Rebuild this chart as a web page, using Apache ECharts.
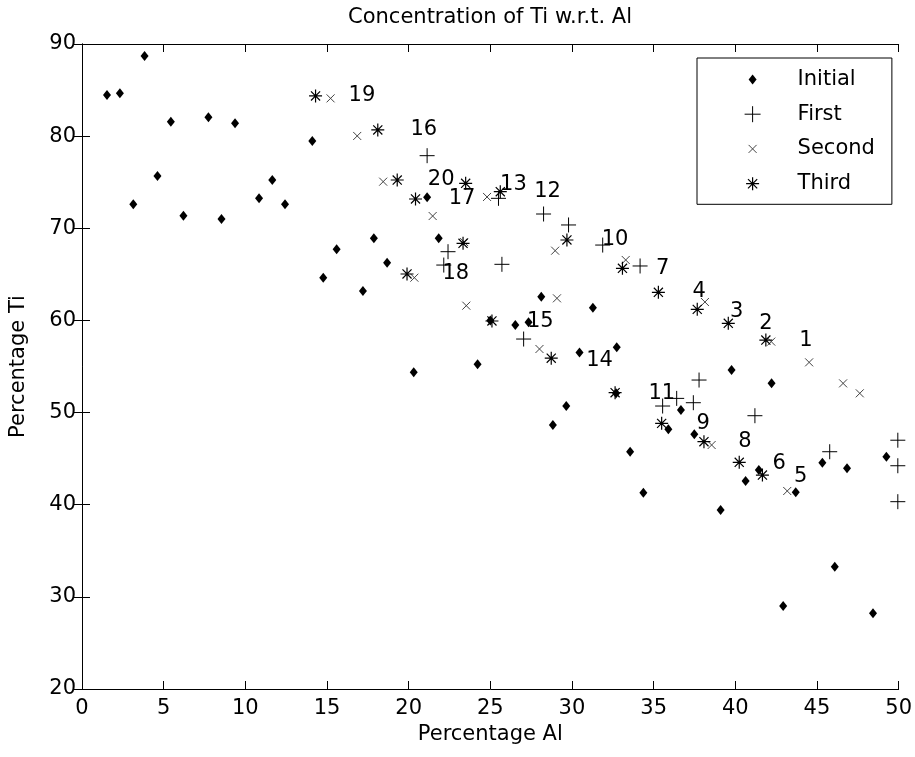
<!DOCTYPE html>
<html><head><meta charset="utf-8">
<script src="https://cdn.jsdelivr.net/npm/echarts@6/dist/echarts.min.js"></script>
<style>html,body{margin:0;padding:0;background:#fff}#c{width:915px;height:757px}</style>
</head><body><div id="c"></div>
<script>
// ---- data ----
const xTicks = [0, 5, 10, 15, 20, 25, 30, 35, 40, 45, 50];
const yTicks = [20, 30, 40, 50, 60, 70, 80, 90];

const initialX = [1.53, 2.32, 3.83, 5.44, 7.74, 9.37, 4.62, 3.14, 6.21, 8.54, 10.84, 11.65, 12.43, 14.1, 21.13, 17.87, 15.59, 21.84, 18.68, 14.77, 17.2, 28.12, 31.28, 25.0, 26.53, 27.34, 30.46, 32.74, 20.31, 24.22, 29.65, 28.83, 33.56, 34.37, 35.9, 36.67, 37.49, 39.77, 42.22, 45.33, 46.84, 49.25, 41.44, 40.63, 43.7, 39.1, 46.09, 42.93, 48.43, 32.7];
const initialY = [84.47, 84.65, 88.7, 81.57, 82.04, 81.39, 75.67, 72.6, 71.37, 71.0, 73.25, 75.24, 72.6, 79.47, 73.36, 68.92, 67.72, 68.92, 66.27, 64.64, 63.19, 62.58, 61.38, 60.0, 59.5, 59.8, 56.53, 57.08, 54.37, 55.24, 50.71, 48.65, 45.75, 41.3, 48.2, 50.28, 47.64, 54.62, 53.17, 44.56, 43.95, 45.21, 43.77, 42.57, 41.35, 39.42, 33.27, 29.0, 28.21, 52.1];

const firstX = [21.13, 22.41, 22.15, 25.5, 28.26, 29.79, 31.88, 34.17, 25.71, 27.04, 35.55, 36.41, 37.43, 37.78, 41.2, 45.78, 49.95, 49.95, 49.95];
const firstY = [77.88, 67.46, 66.01, 73.25, 71.55, 70.36, 68.18, 65.91, 66.09, 57.98, 50.71, 51.54, 51.07, 53.53, 49.66, 45.75, 47.0, 44.23, 40.33];

const secondX = [15.22, 16.85, 18.44, 24.8, 21.47, 23.4, 20.35, 23.53, 28.97, 33.29, 29.08, 28.01, 38.14, 42.2, 44.52, 46.6, 47.62, 38.55, 43.18];
const secondY = [84.1, 80.02, 75.06, 73.4, 71.33, 68.5, 64.64, 61.6, 67.57, 66.56, 62.4, 56.9, 62.0, 57.7, 55.45, 53.17, 52.09, 46.48, 41.49];

const thirdX = [14.3, 18.11, 19.3, 23.49, 25.61, 20.42, 23.33, 19.9, 25.1, 29.69, 33.09, 35.29, 37.67, 39.57, 41.87, 28.73, 32.64, 35.49, 38.08, 40.24, 41.66];
const thirdY = [84.36, 80.67, 75.24, 74.88, 73.97, 73.18, 68.37, 65.04, 59.94, 68.73, 65.66, 63.05, 61.2, 59.69, 57.87, 55.9, 52.16, 48.83, 46.84, 44.6, 43.22];

const labelText = ['1', '2', '3', '4', '5', '6', '7', '8', '9', '10', '11', '12', '13', '14', '15', '16', '17', '18', '19', '20'];
const labelX = [43.91, 41.46, 39.67, 37.38, 43.6, 42.27, 35.15, 40.18, 37.63, 31.82, 34.68, 27.69, 25.6, 30.87, 27.24, 20.11, 22.45, 22.07, 16.32, 21.17];
const labelY = [57.87, 59.69, 60.95, 63.12, 43.04, 44.5, 65.66, 46.84, 48.83, 68.73, 52.09, 73.97, 74.7, 55.7, 59.86, 80.67, 73.25, 65.11, 84.36, 75.24];

const seriesNames = ['Initial', 'First', 'Second', 'Third'];

// ---- build ----
const zip = (xs, ys) => xs.map((x, i) => [x, ys[i]]);
const FONT = '"DejaVu Sans", "Liberation Sans", Arial, sans-serif';
const FS = 21;
const PLUS = 'path://M0,-1L0,1M-1,0L1,0';
const CROSS = 'path://M-1,-1L1,1M1,-1L-1,1';
const STAR = 'path://M0,-1L0,1M-1,0L1,0M-0.7,-0.7L0.7,0.7M0.7,-0.7L-0.7,0.7';
const PAD = 'M-40,-10L-40,-10M40,10L40,10';
const legIcons = [
  'path://M0,-5L4,0L0,5L-4,0Z' + PAD,
  'path://M0,-8L0,8M-8,0L8,0' + PAD,
  'path://M-4,-4L4,4M4,-4L-4,4' + PAD,
  'path://M0,-6.5L0,6.5M-6.5,0L6.5,0M-4.6,-4.6L4.6,4.6M4.6,-4.6L-4.6,4.6' + PAD
];
const strokeStyle = (c, w) => ({ color: 'transparent', borderColor: c, borderWidth: w, opacity: 1 });

const axisCommon = {
  axisLine: { show: true, lineStyle: { color: '#000', width: 1 } },
  axisTick: { show: true, inside: true, length: 8, lineStyle: { color: '#000', width: 1 } },
  splitLine: { show: false }
};

const chart = echarts.init(document.getElementById('c'), null, { renderer: 'canvas' });
chart.setOption({
  animation: false,
  backgroundColor: '#fff',
  textStyle: { fontFamily: FONT },
  title: {
    text: 'Concentration of Ti w.r.t. Al',
    left: 490, top: 7, textAlign: 'center', padding: 0,
    textStyle: { fontFamily: FONT, fontSize: FS, fontWeight: 'normal', color: '#000' }
  },
  grid: { left: 81, right: 16, top: 44, bottom: 68, containLabel: false },
  legend: {
    orient: 'vertical', left: 697, top: 58,
    padding: [11, 17, 10, 15], itemGap: 13.7,
    itemWidth: 80, itemHeight: 20,
    backgroundColor: '#fff', borderColor: '#000', borderWidth: 1,
    selectedMode: false,
    textStyle: { fontFamily: FONT, fontSize: FS, color: '#000', lineHeight: 20 },
    data: [
      { name: seriesNames[0], icon: legIcons[0], itemStyle: { color: '#000', borderWidth: 0 } },
      { name: seriesNames[1], icon: legIcons[1], itemStyle: strokeStyle('#000', 1) },
      { name: seriesNames[2], icon: legIcons[2], itemStyle: strokeStyle('#444', 1) },
      { name: seriesNames[3], icon: legIcons[3], itemStyle: strokeStyle('#000', 1.2) }
    ]
  },
  xAxis: [
    Object.assign({}, axisCommon, {
      type: 'value', min: 0, max: 50, interval: 5, position: 'bottom',
      name: 'Percentage Al', nameLocation: 'middle', nameGap: 31,
      nameTextStyle: { fontFamily: FONT, fontSize: FS, color: '#000' },
      axisLabel: { color: '#000', fontSize: FS, fontFamily: FONT, margin: 9,
        formatter: v => xTicks.includes(v) ? String(v) : '' }
    }),
    Object.assign({}, axisCommon, {
      type: 'value', min: 0, max: 50, interval: 5, position: 'top',
      axisLabel: { show: false }
    })
  ],
  yAxis: [
    Object.assign({}, axisCommon, {
      type: 'value', min: 20, max: 90, interval: 10, position: 'left',
      name: 'Percentage Ti', nameLocation: 'middle', nameGap: 53,
      nameTextStyle: { fontFamily: FONT, fontSize: FS, color: '#000' },
      axisLabel: { color: '#000', fontSize: FS, fontFamily: FONT, margin: 6,
        formatter: v => yTicks.includes(v) ? String(v) : '' }
    }),
    Object.assign({}, axisCommon, {
      type: 'value', min: 20, max: 90, interval: 10, position: 'right',
      axisLabel: { show: false }
    })
  ],
  series: [
    { name: seriesNames[0], type: 'scatter', symbol: 'diamond', symbolSize: [8, 10],
      itemStyle: { color: '#000', opacity: 1 }, data: zip(initialX, initialY), z: 3 },
    { name: seriesNames[1], type: 'scatter', symbol: PLUS, symbolSize: 15,
      itemStyle: strokeStyle('#000', 1), data: zip(firstX, firstY), z: 3 },
    { name: seriesNames[2], type: 'scatter', symbol: CROSS, symbolSize: 8,
      itemStyle: strokeStyle('#444', 1), data: zip(secondX, secondY), z: 3 },
    { name: seriesNames[3], type: 'scatter', symbol: STAR, symbolSize: 13,
      itemStyle: strokeStyle('#000', 1.2), data: zip(thirdX, thirdY), z: 3 },
    { name: 'labels', type: 'scatter', symbol: 'circle', symbolSize: 0,
      itemStyle: { color: '#000', opacity: 1 }, silent: true, z: 4,
      label: { show: true, position: 'right', distance: 0, align: 'left', verticalAlign: 'middle',
        opacity: 1, fontFamily: FONT, fontSize: FS, color: '#000', textBorderWidth: 0,
        formatter: p => p.value[2] },
      data: labelX.map((x, i) => [x, labelY[i], labelText[i]]) }
  ]
});
</script></body></html>
